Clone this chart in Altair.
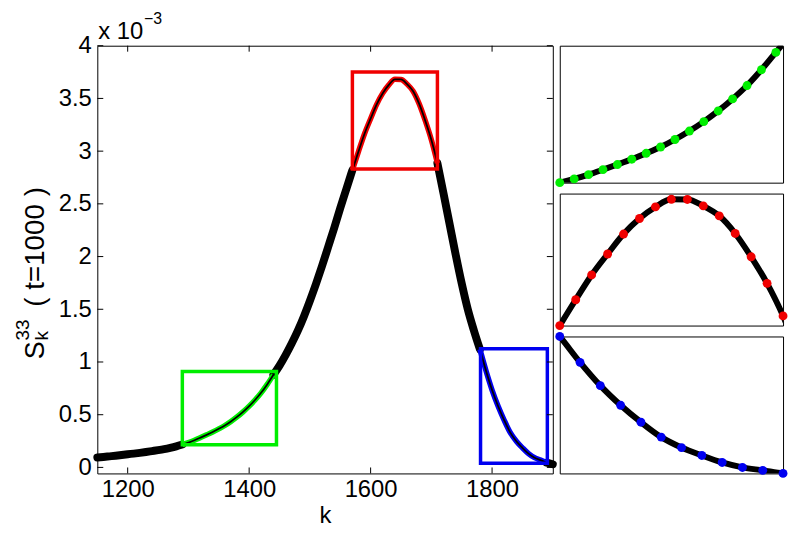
import altair as alt
import pandas as pd

FONT = "Liberation Sans"

# ---- data (S values in units of 1e-3) ----
k_values = list(range(1150, 1901, 10))
s_values = [
    0.094, 0.099, 0.105, 0.111, 0.118,
    0.125, 0.131, 0.138, 0.146, 0.155,
    0.164, 0.174, 0.186, 0.200, 0.217,
    0.236, 0.258, 0.283, 0.309, 0.336,
    0.366, 0.398, 0.436, 0.479, 0.527,
    0.581, 0.642, 0.710, 0.790, 0.878,
    0.965, 1.065, 1.175, 1.295, 1.430,
    1.580, 1.740, 1.910, 2.090, 2.270,
    2.460, 2.640, 2.820, 2.996, 3.165,
    3.308, 3.444, 3.550, 3.629, 3.681,
    3.680, 3.636, 3.568, 3.448, 3.289,
    3.108, 2.886, 2.600, 2.310, 2.020,
    1.745, 1.500, 1.300, 1.120, 0.917,
    0.734, 0.580, 0.447, 0.330, 0.248,
    0.186, 0.131, 0.092, 0.069, 0.045,
    0.030,
]

box_names = ["green", "red", "blue"]
box_colors = ["#00ee00", "#f00000", "#0000f0"]
box_k0 = [1290, 1570, 1781]
box_k1 = [1445, 1710, 1891]
box_s0 = [0.216, 2.83, 0.04]
box_s1 = [0.91, 3.75, 1.125]

seg_k0 = [1290, 1570, 1780]
seg_k1 = [1440, 1710, 1890]

outer_k0 = [1150, 1440, 1710, 1890]
outer_k1 = [1290, 1570, 1780, 1900]

inset_k0 = [1290, 1570, 1780]
inset_k1 = [1445, 1710, 1890]
inset_s0 = [0.217, 2.82, 0.045]
inset_s1 = [0.912, 3.72, 1.12]
inset_heights = [138, 133, 138]

x_ticks = [1200, 1400, 1600, 1800]
y_ticks = [0, 0.5, 1, 1.5, 2, 2.5, 3, 3.5, 4]

W, H = 459, 431
TL = 6

curve = pd.DataFrame({"k": k_values, "s": s_values})
segs = pd.concat([
    curve[(curve.k >= a) & (curve.k <= b)].assign(name=n)
    for n, a, b in zip(box_names, seg_k0, seg_k1)
])
outer = pd.concat([
    curve[(curve.k >= a) & (curve.k <= b)].assign(piece=i)
    for i, (a, b) in enumerate(zip(outer_k0, outer_k1))
])
boxes = pd.DataFrame({"name": box_names, "k0": box_k0, "k1": box_k1,
                      "s0": box_s0, "s1": box_s1})
xt = pd.DataFrame({"t": x_ticks})
yt = pd.DataFrame({"t": y_ticks})

xs = alt.Scale(domain=[1150, 1900], nice=False, zero=False)
ys = alt.Scale(domain=[-0.057, 4], nice=False, zero=False)
cscale = alt.Scale(domain=box_names, range=box_colors)

X = alt.X("k:Q", scale=xs,
          axis=alt.Axis(values=x_ticks, format="d", title="k", ticks=False,
                        domain=False, labelFontSize=24, titleFontSize=24,
                        labelPadding=4, titlePadding=2, titleFontWeight="normal",
                        labelFont=FONT, titleFont=FONT, labelColor="black",
                        titleColor="black"))
Y = alt.Y("s:Q", scale=ys,
          axis=alt.Axis(values=y_ticks, format="~g", title=None, ticks=False,
                        domain=False, labelFontSize=24, labelPadding=6,
                        labelFont=FONT, labelColor="black"))

thick = alt.Chart(outer).mark_line(color="black", strokeWidth=8, strokeCap="round",
                                   interpolate="monotone").encode(
    x=X, y=Y, detail="piece:N")
colored = alt.Chart(segs).mark_line(strokeWidth=5.5, interpolate="monotone").encode(
    x=alt.X("k:Q", scale=xs), y=alt.Y("s:Q", scale=ys),
    color=alt.Color("name:N", scale=cscale, legend=None), detail="name:N")
thin = alt.Chart(curve).mark_line(color="black", strokeWidth=1.8,
                                  interpolate="monotone").encode(
    x=alt.X("k:Q", scale=xs), y=alt.Y("s:Q", scale=ys))
rects = alt.Chart(boxes).mark_rect(filled=False, strokeWidth=3.5).encode(
    x=alt.X("k0:Q", scale=xs), x2="k1:Q",
    y=alt.Y("s0:Q", scale=ys), y2="s1:Q",
    stroke=alt.Stroke("name:N", scale=cscale, legend=None))

tick_b = alt.Chart(xt).mark_rule(color="black", strokeWidth=1).encode(
    x=alt.X("t:Q", scale=xs), y=alt.value(H), y2=alt.value(H - TL))
tick_t = alt.Chart(xt).mark_rule(color="black", strokeWidth=1).encode(
    x=alt.X("t:Q", scale=xs), y=alt.value(0), y2=alt.value(TL))
tick_l = alt.Chart(yt).mark_rule(color="black", strokeWidth=1).encode(
    y=alt.Y("t:Q", scale=ys), x=alt.value(0), x2=alt.value(TL))
tick_r = alt.Chart(yt).mark_rule(color="black", strokeWidth=1).encode(
    y=alt.Y("t:Q", scale=ys), x=alt.value(W), x2=alt.value(W - TL))

def txt(s, x, y, size, angle=0, align="left", baseline="alphabetic"):
    kw = dict(text=s, fontSize=size, font=FONT, color="black",
              align=align, baseline=baseline)
    if angle:
        kw["angle"] = angle
    return alt.Chart(pd.DataFrame({"a": [0]})).mark_text(**kw).encode(
        x=alt.value(x), y=alt.value(y))

mult1 = txt("x 10", 1, -7, 24)
mult2 = txt("\u22123", 47, -22, 16)

cy = 316
lab_S = txt("S", -54, cy, 27, angle=270)
lab_33 = txt("33", -69, cy - 19, 19, angle=270)
lab_k = txt("k", -50, cy - 19, 19, angle=270)
lab_rest = txt("( t=1000 )", -54, cy - 53, 28, angle=270)

main = alt.layer(thick, colored, thin, rects, tick_b, tick_t, tick_l, tick_r,
                 mult1, mult2, lab_S, lab_33, lab_k, lab_rest).properties(
    width=W, height=H)

insets = []
for i, n in enumerate(box_names):
    a, b = inset_k0[i], inset_k1[i]
    sx = alt.Scale(domain=[a, b], nice=False, zero=False)
    sy = alt.Scale(domain=[inset_s0[i], inset_s1[i]], nice=False, zero=False)
    ld = curve[(curve.k >= a - 10) & (curve.k <= b + 10)]
    pdots = curve[(curve.k >= seg_k0[i]) & (curve.k <= seg_k1[i])]
    ln = alt.Chart(ld).mark_line(color="black", strokeWidth=6, clip=True,
                                 interpolate="monotone").encode(
        x=alt.X("k:Q", scale=sx, axis=None), y=alt.Y("s:Q", scale=sy, axis=None))
    pt = alt.Chart(pdots).mark_circle(color=box_colors[i], size=80, opacity=1).encode(
        x=alt.X("k:Q", scale=sx, axis=None), y=alt.Y("s:Q", scale=sy, axis=None))
    insets.append(alt.layer(ln, pt).properties(width=225, height=inset_heights[i]))

right = alt.vconcat(*insets, spacing=11, bounds="flush")

chart = alt.hconcat(main, right, spacing=7, bounds="flush").properties(
    padding={"left": 5, "top": 0, "right": 0, "bottom": 0},
    background="white",
).configure_view(stroke="black", strokeWidth=1).configure_axis(grid=False)

chart.save("out.html", embed_options={"renderer": "svg", "actions": False})
